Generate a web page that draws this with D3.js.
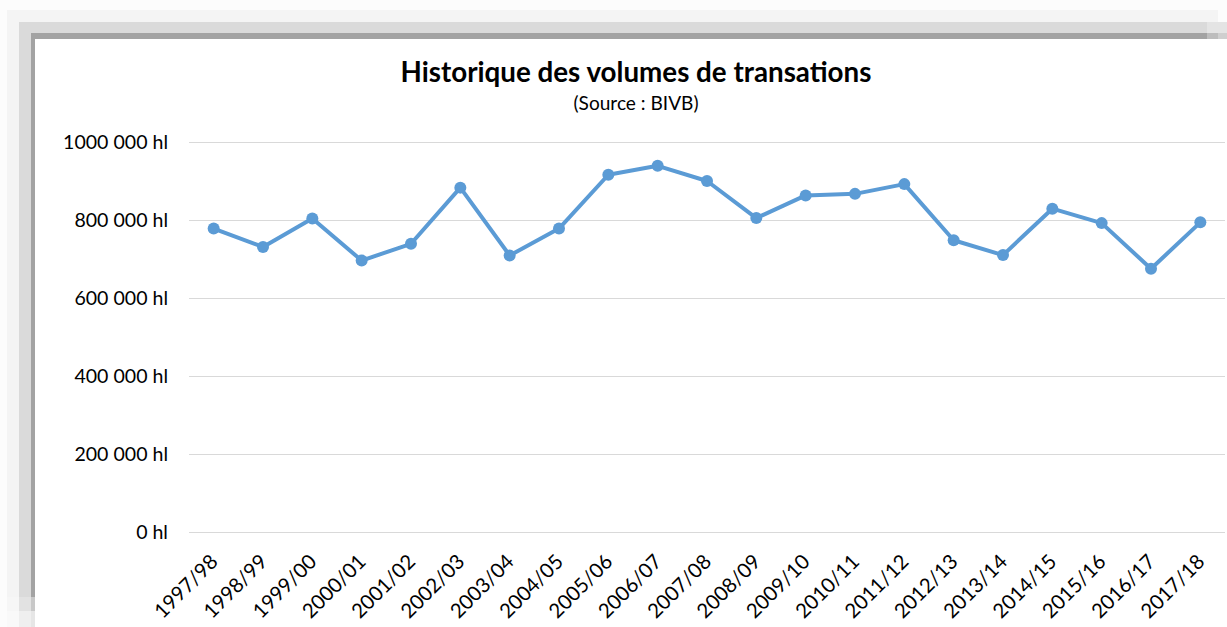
<!DOCTYPE html>
<html>
<head>
<meta charset="utf-8">
<script src="https://cdn.jsdelivr.net/npm/d3@7"></script>
<style>
  body { margin: 0; background: #fcfcfc; }
  text { font-family: Lato, "Open Sans", sans-serif; fill: #000; }
</style>
</head>
<body>
<div class="canvas"></div>
<script>
// Data

const seasons = ["1997/98", "1998/99", "1999/00", "2000/01", "2001/02", "2002/03", "2003/04",
                 "2004/05", "2005/06", "2006/07", "2007/08", "2008/09", "2009/10", "2010/11",
                 "2011/12", "2012/13", "2013/14", "2014/15", "2015/16", "2016/17", "2017/18"];
const volumes = [778000, 731000, 804000, 696000, 739000, 883000, 709000,
                 778000, 916000, 939000, 900000, 805000, 863000, 867000,
                 892000, 748000, 710000, 829000, 792000, 675000, 794000];
const yTicks = [0, 200000, 400000, 600000, 800000, 1000000];
const title = "Historique des volumes de transations";
const subtitle = "(Source : BIVB)";

const W = 1227, H = 627;
const plot = { left: 189, right: 1225, top: 142, bottom: 532 };

const svg = d3.select(".canvas")
    .append("svg")
        .attr("width", W)
        .attr("height", H);

// frame shadow bands (top / left edges)
const bands = [
    { x: 7,  y: 10, fill: "#f4f4f4" },
    { x: 19, y: 22, fill: "#dadada" },
    { x: 31, y: 33, fill: "#a3a3a3" }
];
bands.forEach(b => {
    svg.append("rect").attr("x", b.x).attr("y", b.y)
        .attr("width", 1218 - b.x).attr("height", 597 - b.y).attr("fill", b.fill);
});
// fading lower part of left bands
const fade = [
    { y: 597, h: 14, cols: ["#f6f6f6", "#e2e2e2", "#c8c8c8"] },
    { y: 611, h: 16, cols: ["#f9f9f9", "#efefef", "#e6e6e6"] }
];
fade.forEach(f => {
    svg.append("rect").attr("x", 7).attr("y", f.y).attr("width", 12).attr("height", f.h).attr("fill", f.cols[0]);
    svg.append("rect").attr("x", 19).attr("y", f.y).attr("width", 12).attr("height", f.h).attr("fill", f.cols[1]);
    svg.append("rect").attr("x", 31).attr("y", f.y).attr("width", 4).attr("height", f.h).attr("fill", f.cols[2]);
});
// top-right fading
svg.append("rect").attr("x", 1207).attr("y", 22).attr("width", 20).attr("height", 17).attr("fill", "#e4e4e4");
svg.append("rect").attr("x", 1207).attr("y", 33).attr("width", 11).attr("height", 6).attr("fill", "#bdbdbd");
svg.append("rect").attr("x", 1218).attr("y", 33).attr("width", 9).attr("height", 6).attr("fill", "#cfcfcf");

// white chart area
svg.append("rect").attr("x", 35).attr("y", 39)
    .attr("width", W - 35).attr("height", H - 39).attr("fill", "#fff");

// scales
const x = d3.scalePoint()
    .domain(seasons)
    .range([plot.left, plot.right])
    .padding(0.5);

const y = d3.scaleLinear()
    .domain([0, 1000000])
    .range([plot.bottom, plot.top]);

// helper: font size so that a string gets a target width
function fitSize(str, target, weight) {
    const t = svg.append("text").attr("font-size", 100).attr("font-weight", weight || "normal").text(str);
    const w = t.node().getComputedTextLength();
    t.remove();
    return 100 * target / w;
}

// title
svg.append("text")
    .attr("x", 636).attr("y", 82)
    .attr("text-anchor", "middle")
    .attr("font-weight", "bold")
    .attr("font-size", fitSize(title, 471, "bold"))
    .text(title);

svg.append("text")
    .attr("x", 636).attr("y", 110)
    .attr("text-anchor", "middle")
    .attr("font-size", fitSize(subtitle, 125))
    .text(subtitle);

// excel-like "### ##0" format: only the last thousands group is split
const fmt = v => {
    if (v < 1000) return v + " hl";
    const k = Math.floor(v / 1000), r = v % 1000;
    return k + " " + String(r).padStart(3, "0") + " hl";
};
const tickSize = fitSize(fmt(1000000), 105);

// y axis: gridlines and labels
const yAxis = svg.append("g")
    .attr("transform", `translate(${plot.left},0)`)
    .call(d3.axisLeft(y)
        .tickValues(yTicks)
        .tickSize(-(plot.right - plot.left))
        .tickPadding(21)
        .tickFormat(fmt));
yAxis.select(".domain").remove();
yAxis.selectAll(".tick line").attr("stroke", "#d9d9d9").attr("stroke-width", 1.2);
yAxis.selectAll(".tick text")
    .attr("font-family", "Lato, sans-serif")
    .attr("font-size", tickSize)
    .attr("fill", "#000");

// x axis labels, rotated
const xAxis = svg.append("g")
    .attr("transform", `translate(0,${plot.bottom})`)
    .call(d3.axisBottom(x).tickSize(0).tickPadding(0));
xAxis.select(".domain").remove();
xAxis.selectAll(".tick text")
    .attr("font-family", "Lato, sans-serif")
    .attr("font-size", tickSize * 1.04)
    .attr("fill", "#000")
    .attr("text-anchor", "end")
    .attr("dy", 0)
    .attr("transform", "translate(5,31) rotate(-45)");

// line
const line = d3.line()
    .x((d, i) => x(seasons[i]))
    .y(d => y(d));

svg.append("path")
    .datum(volumes)
    .attr("fill", "none")
    .attr("stroke", "#5b9bd5")
    .attr("stroke-width", 4)
    .attr("stroke-linejoin", "round")
    .attr("d", line);

svg.selectAll(".pt")
    .data(volumes)
    .join("circle")
        .attr("class", "pt")
        .attr("cx", (d, i) => x(seasons[i]))
        .attr("cy", d => y(d))
        .attr("r", 6)
        .attr("fill", "#5b9bd5");
</script>
</body>
</html>
